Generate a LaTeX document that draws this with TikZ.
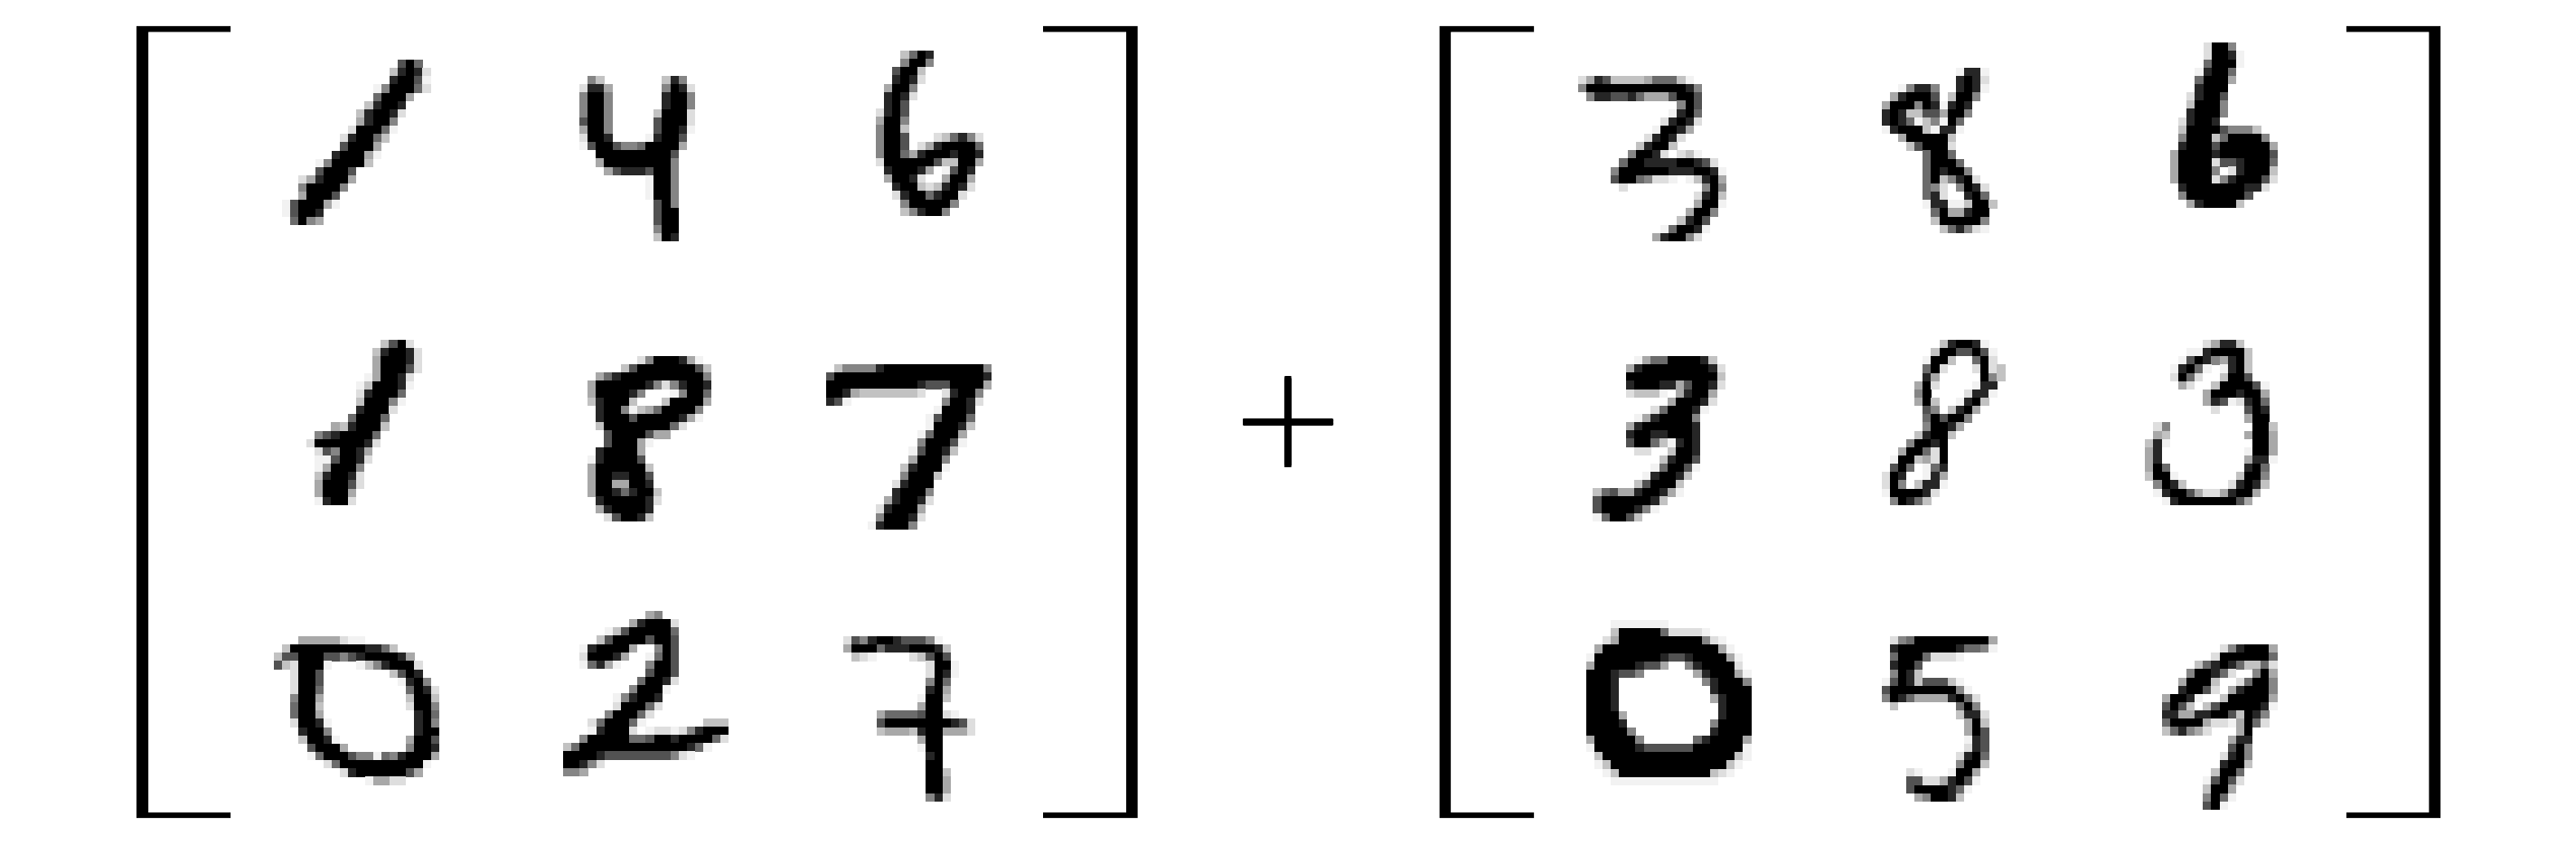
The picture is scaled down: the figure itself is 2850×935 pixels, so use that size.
\documentclass[tikz,border=0pt]{standalone}
\usepackage{fontspec}
\definecolor{pixg1}{gray}{.95}
\definecolor{pixg2}{gray}{.87}
\definecolor{pixg3}{gray}{.76}
\definecolor{pixg4}{gray}{.66}
\definecolor{pixg5}{gray}{.52}
\definecolor{pixg6}{gray}{.42}
\definecolor{pixg7}{gray}{.32}
\definecolor{pixg8}{gray}{.15}
\definecolor{pixg9}{gray}{0}
\newcount\rowi
\newcount\coli
\def\pixc{9.14}
\let\pixend\relax
\def\pixcell#1{%
  \pgfmathsetmacro\pixxa{\pixx+\the\coli*\pixc}%
  \pgfmathsetmacro\pixya{\pixy+\the\rowi*\pixc}%
  \path[fill=pixg#1] (\pixxa,\pixya) rectangle +(9.3,9.3);}
\def\pixscan#1{%
  \let\pixnext\pixscan
  \ifx#1\pixend
    \let\pixnext\relax
  \else
    \ifx#1/%
      \global\advance\rowi by 1
      \global\coli=0
    \else
      \ifx#1.\else\pixcell{#1}\fi
      \global\advance\coli by 1
    \fi
  \fi
  \pixnext}
\newcommand\pix[3]{\def\pixx{#1}\def\pixy{#2}\global\rowi=0 \global\coli=0 \pixscan#3\pixend}
\tikzset{bracketfill/.style={fill=black}}
\begin{document}
\begin{tikzpicture}[x=0.5pt,y=-0.5pt]
\useasboundingbox (0,0) rectangle (2850,935);
\fill[white] (0,0) rectangle (2850,935);
% brackets
\fill[bracketfill] (255,29) -- (151,29) -- (151,905) -- (255,905) -- (255,899) -- (164,899) -- (164,35.5) -- (255,35.5) -- cycle;
\fill[bracketfill] (1154,29) -- (1258.5,29) -- (1258.5,905) -- (1154,905) -- (1154,899) -- (1246,899) -- (1246,35.5) -- (1154,35.5) -- cycle;
\fill[bracketfill] (1697,29) -- (1592.5,29) -- (1592.5,905) -- (1697,905) -- (1697,899) -- (1605,899) -- (1605,35.5) -- (1697,35.5) -- cycle;
\fill[bracketfill] (2596,29) -- (2700,29) -- (2700,905) -- (2596,905) -- (2596,899) -- (2687.3,899) -- (2687.3,35.5) -- (2596,35.5) -- cycle;
\begin{scope}
\clip (1375,417) rectangle (1475,517);
\node[inner sep=0pt] (plus) at (1425,467) {\fontsize{83}{83}\selectfont\special{pdf:code q 2 Tr 1.05 w 0 G}+\special{pdf:code Q}};
\end{scope}
\pix{312}{66}{..............796/.............38982/.............89971/...........1599962/...........69994/..........38998/.........389982/.........48995/........299961/.......289963/.......79994/......899941/....1599993/....79997/..2489994/..599995/..49997/1799941/17998/.6954}
\pix{641}{84}{.53.......385/2884......5982/5995......8995/5995......8995/5995.....39992/7995.....79992/4995.....79981/2998....18997/1799755699994/..9999999997/..4999999995/...478887995/........1995/........1995/........1995/.........795/.........799/.........799/.........599/.........398}
\pix{969}{56}{...3698/...5995/..7993/..8982/.4995/.8982/.897/2897/4995/5993/5997...236852/5997.24899996/5996489998998/2999999733994/.899984.1798/.49982..4994/..8993238982/..289968992/...5999995/...358995}
\pix{339}{376}{.........3792/........389982/........499982/........499972/.......149982/......1399981/......289996/......399951/......89992/.....69996/...4389993/.57899996/299999982/.2759984/.1179982/.149995/.389982/.499972/.49994/.18992}
\pix{650}{394}{......25999841/....37 9999999 73/.468 9999999999 5/4 999999 8 5 2 5 8 9 9 8/4999985...15996/389993...399994/.8995134699995/.8999799999841/.3 99999999 62/..79999744/..799941/.899994/1899997/49999993/49988997/49944998/499868993/.89999982/.4899998/..279983}
\pix{914}{403}{.3 5555 8 999999999999 5/7 999999999 999999999 8/99999999999 8777 9999 4/998433333332..28995/871...........59982/.............19998/............179996/............199983/...........169994/...........599971/..........179983/..........49995/.........389991/.........59993/........28999/........89995/.......489982/......289994/......599982/.....189995}
\pix{303}{704}{...44444211/.3 999999999 8863/37799977578999984/7329991...13589992/..2997........3798/..2997.........1895/..2996..........6982/..5994..........3993/..6993..........2995/..6994...........896/..29981..........895/...8995..........899/...39981........4997/....79994.......5998/....1699975516589994/......26 9999999999 1/........28 999999 74/...........14422}
\pix{623}{676}{..........45/........489992/.....137999996/....3799997997/..1899994..597/..299984..1697/..16841...5997/..........7997/.........69982/........59991/......158998/......299962/.....599962/...2699961.......333/...189992.1221258999/..5 99999 667 99 8 9999 62/36 9999999999999 861/99998 77777777 521/99852/554}
\pix{933}{704}{275899877751/4999688899983/.321....23797/..........2991/..........2981/..........596/..........894/.........1993/.........499/....466667 9921/....7 99999999 872/....344438994442/.........499/.........199/..........89/..........99/..........993/..........994/..........994/..........582}
\pix{1745.7}{84}{24873333466631/5 999999999999 85/.58877864447997/............597/...........1896/..........28982/.........19984/........28982/.......38993/......59982.231/.....699888899872/....5 999999 888 99 81/....79965221.13894/.....2.........595/..............2893/..............4991/.............4995/............3897/..........169981/.........489952}
\pix{2081.5}{75}{.........1881/.........8982/..15885..8981/.489997.3995/49995981898/89833774995/8986135196/1899931881/..4999993/...379992/.....6996/.....69996/.....698995/.....6935892/.....652.5982/.....682..896/.....188113993/......6944899/......3 99999 5/.......368521}
\pix{2401}{47.3}{....2995/....29981/....69991/...18996/...69994/...8999/..28997/..39995/..89995/.28998/.3999975553/.59993699995/.8 999 7 999999 4/4 9999 8 999999 7/4 9999 2 7 7 8 999 6/4 9999 5 . 2 8 999 3/4 9999 2 5 8 999 7 2/.8 9999999 88 2/.5 9999999 7/..48 9999 3}
\pix{1762.4}{394}{.....14 66 9999 83/....48 99999999 82/....99999999999 3/....899988479982/....23331.48994/.........499982/.......269998 1/.....14899995/....48 999999 8/....899889998/....79963 18 98/.....22..3998/........38997/.......169971/......189983/.....379993/36744899841/799999983/79999851/169973}
\pix{2081.5}{376}{.......389981/......39977971/.....1993..692/.....692...2923/.....84.....953/....492....188/....59....2881/....493..1893/.....75.3894/.....697995/.....59984/....38993/...59989/..499629/.1993429/.796.168/298..184/295.3881/1999982/.59863}
\pix{2373.3}{376}{.......24883/.....11899993/....179854893/...18961.1893/...2962..3997/....42..3999971/.......49998994/.......48712896/........2...798/............499/.25..........993/.43.........4994/381..........994/48..........1994/48..........4881/496.........896/3991.......3995/.5983.....28983/.1899742248994/..18 9999999 74}
\pix{1754.6}{686}{...1111111/...399999622221/..24 9999999999 521/.4 99999999999999 41/1 99999999 8778 9999 41/4 99999 8774 ..58 9999 2/999 8775 ...... 48 999 41/9998 .......... 58 999 5/9998 ........... 8 9999/9998 ........... 48 999/9998 ............ 8 999/99994 ........... 8 999/99998 .......... 59 999/999995 ......... 8 9999/4 99999 5 ...... 68 9999 4/1 99999 8 777777 999999 1/.3 9999999999999999 31/.13 99999999999999 31/..13 99999999999 321/...1 111111111111}
\pix{2081.5}{704}{.256 999999999 4/.8 9999999 8665 1/.699962221/.8997/.5983/1798377731/7 99999999 51/598644448962/.3.......695/.........3882/..........493/..........497/..........187/..........287/.........2896/.........5993/...21...1994/...772248971/...79999861/....459983}
\pix{2391.6}{713}{.......2589994/......29999996/....3689863362/...599862..594/..49993..26995/..89972.489995/49981..3999994/7973.379999981/8844889973985/6999942214962/368542...49/........488/........795/.......2895/.......8993/......3996/.....17972/.....3994/.....5961/.....791}
\end{tikzpicture}
\end{document}
